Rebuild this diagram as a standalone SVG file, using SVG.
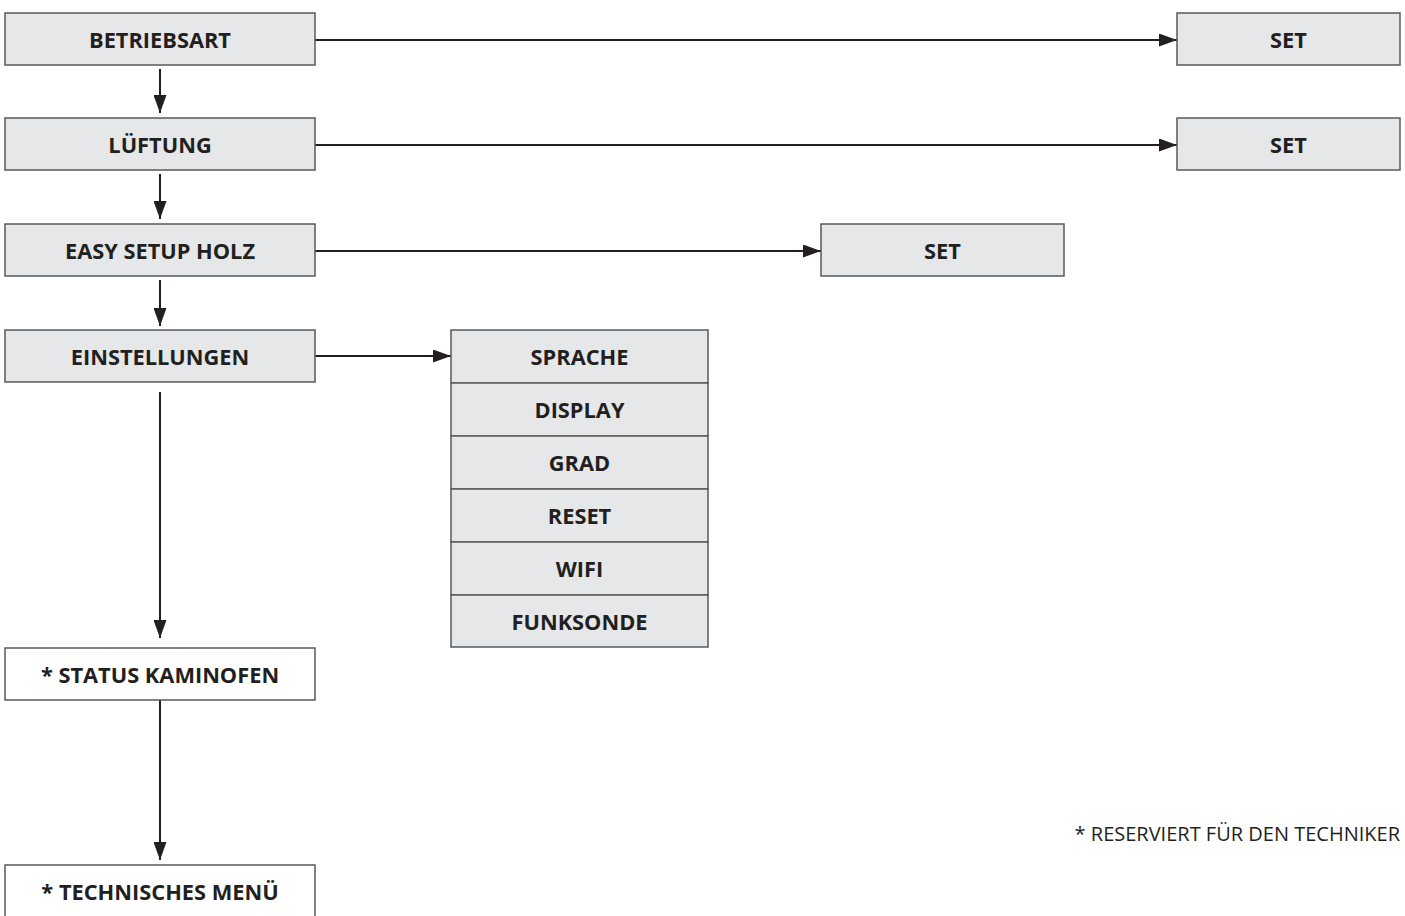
<svg xmlns="http://www.w3.org/2000/svg" width="1405" height="916" viewBox="0 0 1405 916">
<defs>
<marker id="ah" markerWidth="18" markerHeight="13" refX="18" refY="6.5" orient="auto" markerUnits="userSpaceOnUse">
<path d="M0,0 L18,6.5 L0,13 Z" fill="#231f20"/>
</marker>
<style>
.box{fill:#e6e7e8;stroke:#58595b;stroke-width:1.5}
.wbox{fill:#ffffff;stroke:#58595b;stroke-width:1.5}
.t{font-family:"Open Sans","Liberation Sans",sans-serif;font-weight:bold;font-size:21.8px;fill:#231f20;text-anchor:middle;dominant-baseline:central}
.c{stroke:#231f20;stroke-width:2;fill:none;marker-end:url(#ah)}
.note{font-family:"Open Sans","Liberation Sans",sans-serif;font-size:20px;fill:#231f20;text-anchor:end}
</style>
</defs>
<rect width="1405" height="916" fill="#ffffff"/>
<g id="connectors">
<line class="c" x1="315" y1="40" x2="1177" y2="40"/>
<line class="c" x1="315" y1="145" x2="1177" y2="145"/>
<line class="c" x1="315" y1="251" x2="821" y2="251"/>
<line class="c" x1="315" y1="356" x2="451" y2="356"/>
<line class="c" x1="160" y1="69" x2="160" y2="113"/>
<line class="c" x1="160" y1="174" x2="160" y2="219"/>
<line class="c" x1="160" y1="280" x2="160" y2="326"/>
<line class="c" x1="160" y1="392" x2="160" y2="638"/>
<line class="c" x1="160" y1="700" x2="160" y2="860"/>
</g>
<g id="betriebsart"><rect class="box" x="5" y="13" width="310" height="52"/><text class="t" x="160" y="39">BETRIEBSART</text></g>
<g id="lueftung"><rect class="box" x="5" y="118" width="310" height="52"/><text class="t" x="160" y="144">LÜFTUNG</text></g>
<g id="easysetup"><rect class="box" x="5" y="224" width="310" height="52"/><text class="t" x="160" y="250">EASY SETUP HOLZ</text></g>
<g id="einstellungen"><rect class="box" x="5" y="330" width="310" height="52"/><text class="t" x="160" y="356">EINSTELLUNGEN</text></g>
<g id="status"><rect class="wbox" x="5" y="648" width="310" height="52"/><text class="t" x="160" y="674">* STATUS KAMINOFEN</text></g>
<g id="technisch"><rect class="wbox" x="5" y="865" width="310" height="52"/><text class="t" x="160" y="891">* TECHNISCHES MENÜ</text></g>
<g id="set1"><rect class="box" x="1177" y="13" width="223" height="52"/><text class="t" x="1288.5" y="39">SET</text></g>
<g id="set2"><rect class="box" x="1177" y="118" width="223" height="52"/><text class="t" x="1288.5" y="144">SET</text></g>
<g id="set3"><rect class="box" x="821" y="224" width="243" height="52"/><text class="t" x="942.5" y="250">SET</text></g>
<g id="sprache"><rect class="box" x="451" y="330" width="257" height="53"/><text class="t" x="579.5" y="356">SPRACHE</text></g>
<g id="display"><rect class="box" x="451" y="383" width="257" height="53"/><text class="t" x="579.5" y="409">DISPLAY</text></g>
<g id="grad"><rect class="box" x="451" y="436" width="257" height="53"/><text class="t" x="579.5" y="462">GRAD</text></g>
<g id="reset"><rect class="box" x="451" y="489" width="257" height="53"/><text class="t" x="579.5" y="515">RESET</text></g>
<g id="wifi"><rect class="box" x="451" y="542" width="257" height="53"/><text class="t" x="579.5" y="568">WIFI</text></g>
<g id="funksonde"><rect class="box" x="451" y="595" width="257" height="52"/><text class="t" x="579.5" y="621">FUNKSONDE</text></g>
<g id="footnote"><text class="note" x="1400" y="841">* RESERVIERT FÜR DEN TECHNIKER</text></g>
</svg>
